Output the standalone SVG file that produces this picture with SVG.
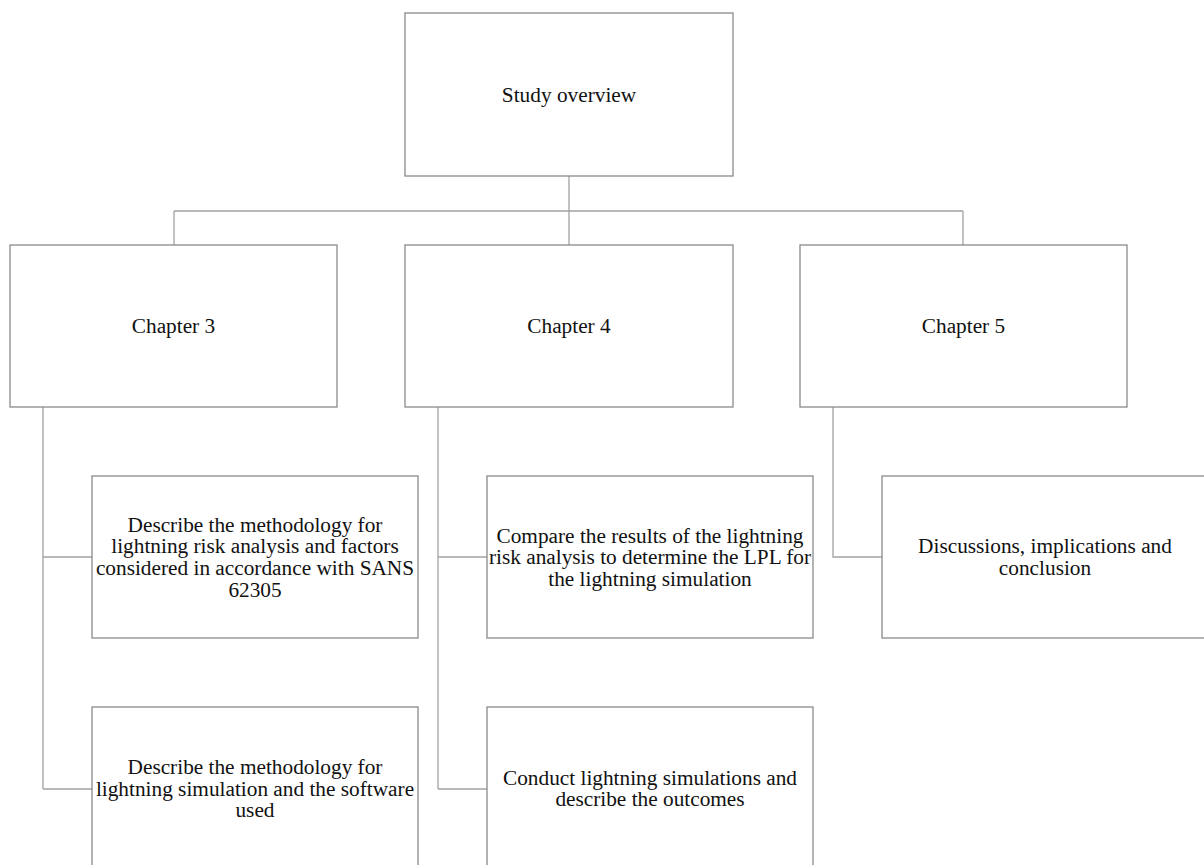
<svg xmlns="http://www.w3.org/2000/svg" width="1204" height="865" viewBox="0 0 1204 865">
<style>
.box{fill:#ffffff;stroke:#8a8a8a;stroke-width:1.3}
.con{fill:none;stroke:#a3a3a3;stroke-width:1.3}
text{font-family:"Liberation Serif","Times New Roman",serif;font-size:21.3px;fill:#111;text-anchor:middle}
</style>
<rect width="1204" height="865" fill="#ffffff"/>
<g id="connectors">
<path class="con" d="M569 176V245M174 211H963M174 211V245M963 211V245"/>
<path class="con" d="M43 407V789M43 557H92M43 789H92"/>
<path class="con" d="M438 407V789M438 557H487M438 789H487"/>
<path class="con" d="M833 407V557H882"/>
</g>
<g id="study-overview">
<rect class="box" x="405" y="13" width="328" height="163"/>
<text x="569" y="101.7">Study overview</text>
</g>
<g id="chapter-3">
<rect class="box" x="10" y="245" width="327" height="162"/>
<text x="173.5" y="333.2">Chapter 3</text>
</g>
<g id="chapter-4">
<rect class="box" x="405" y="245" width="328" height="162"/>
<text x="569" y="333.2">Chapter 4</text>
</g>
<g id="chapter-5">
<rect class="box" x="800" y="245" width="327" height="162"/>
<text x="963.5" y="333.2">Chapter 5</text>
</g>
<g id="ch3-risk">
<rect class="box" x="92" y="476" width="326" height="162"/>
<text x="255" y="531.6">Describe the methodology for<tspan x="255" dy="21.7">lightning risk analysis and factors</tspan><tspan x="255" dy="21.7">considered in accordance with SANS</tspan><tspan x="255" dy="21.7">62305</tspan></text>
</g>
<g id="ch3-simulation">
<rect class="box" x="92" y="707" width="326" height="170"/>
<text x="255" y="774">Describe the methodology for<tspan x="255" dy="21.7">lightning simulation and the software</tspan><tspan x="255" dy="21.7">used</tspan></text>
</g>
<g id="ch4-compare">
<rect class="box" x="487" y="476" width="326" height="162"/>
<text x="650" y="542.5">Compare the results of the lightning<tspan x="650" dy="21.7">risk analysis to determine the LPL for</tspan><tspan x="650" dy="21.7">the lightning simulation</tspan></text>
</g>
<g id="ch4-conduct">
<rect class="box" x="487" y="707" width="326" height="170"/>
<text x="650" y="784.5">Conduct lightning simulations and<tspan x="650" dy="21.7">describe the outcomes</tspan></text>
</g>
<g id="ch5-discussion">
<rect class="box" x="882" y="476" width="340" height="162"/>
<text x="1045" y="553.4">Discussions, implications and<tspan x="1045" dy="21.7">conclusion</tspan></text>
</g>
</svg>
